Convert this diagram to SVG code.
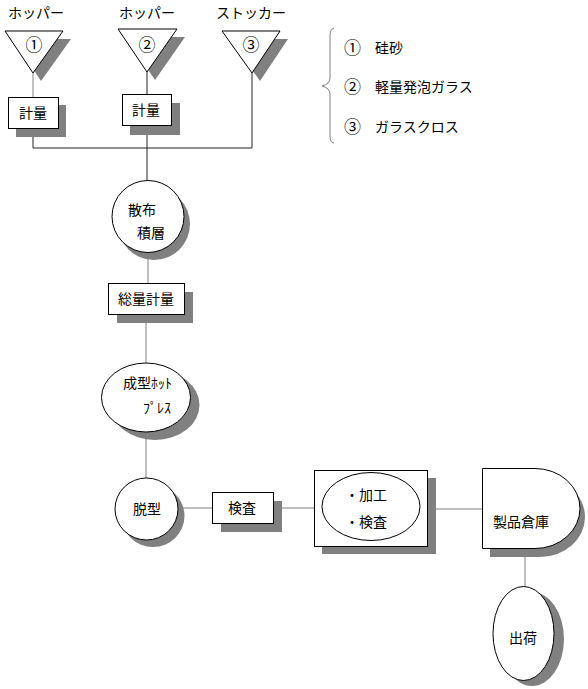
<svg xmlns="http://www.w3.org/2000/svg" width="588" height="689" viewBox="0 0 588 689">
<style>
text{font-family:"Noto Sans CJK JP","Liberation Sans",sans-serif;font-size:14px;fill:#000}
.m{text-anchor:middle}
.c{font-size:17px}
.sh{fill:#808080;stroke:none}
.nd{fill:#fff;stroke:#000;stroke-width:1}
.ln{fill:none;stroke:#222;stroke-width:1}
.lg{fill:none;stroke:#808080;stroke-width:1}
</style>
<rect width="588" height="689" fill="#fff"/>
<g id="labels">
<text class="m" x="36" y="18">ホッパー</text>
<text class="m" x="147" y="18">ホッパー</text>
<text class="m" x="251" y="18">ストッカー</text>
</g>
<g id="connectors">
<path class="lg" d="M33,73V97"/>
<path class="ln" d="M33,128V148H252V73"/>
<path class="ln" d="M147,72V94"/>
<path class="ln" d="M147,125V180"/>
<path class="lg" d="M148,253V283"/>
<path class="lg" d="M146,315V363"/>
<path class="lg" d="M146,432V478"/>
<path class="lg" d="M178,508H212"/>
<path class="lg" d="M273,508H314"/>
<path class="lg" d="M428,509H482"/>
<path class="lg" d="M525,548V586"/>
</g>
<g id="hopper1">
<polygon class="sh" points="13,39 71,39 41,81"/>
<polygon class="nd" points="5,31 63,31 33,73"/>
<text class="m c" x="34" y="51">①</text>
</g>
<g id="hopper2">
<polygon class="sh" points="126,37 185,37 155,80"/>
<polygon class="nd" points="118,29 177,29 147,72"/>
<text class="m c" x="147" y="51">②</text>
</g>
<g id="stocker3">
<polygon class="sh" points="230,39 288,39 260,81"/>
<polygon class="nd" points="222,31 280,31 252,73"/>
<text class="m c" x="251" y="51">③</text>
</g>
<g id="weigh1">
<rect class="sh" x="16" y="105" width="50" height="32"/>
<rect class="nd" x="8.5" y="97.5" width="50" height="31"/>
<text class="m" x="33" y="118">計量</text>
</g>
<g id="weigh2">
<rect class="sh" x="130" y="103" width="50" height="32"/>
<rect class="nd" x="122.5" y="94.5" width="49" height="31"/>
<text class="m" x="146" y="115">計量</text>
</g>
<g id="legend">
<path class="lg" d="M334,28Q330,29 330,36V78Q330,84 322,86Q330,88 330,94V136Q330,143 334,143"/>
<text class="c" x="344" y="54">①</text>
<text x="375" y="53">硅砂</text>
<text class="c" x="344" y="93">②</text>
<text x="375" y="92">軽量発泡ガラス</text>
<text class="c" x="344" y="133">③</text>
<text x="375" y="132">ガラスクロス</text>
</g>
<g id="spread">
<circle class="sh" cx="154" cy="224" r="36"/>
<circle class="nd" cx="148" cy="216.5" r="36"/>
<text x="128" y="215">散布</text>
<text x="137" y="238">積層</text>
</g>
<g id="totalweigh">
<rect class="sh" x="117" y="292" width="76" height="31"/>
<rect class="nd" x="108.5" y="283.5" width="76" height="31"/>
<text class="m" x="146" y="304">総量計量</text>
</g>
<g id="hotpress">
<ellipse class="sh" cx="155" cy="405" rx="44.5" ry="35"/>
<ellipse class="nd" cx="146" cy="397.5" rx="44.5" ry="34.5"/>
<text x="123" y="388">成型ﾎｯﾄ</text>
<text x="143" y="413">ﾌﾟﾚｽ</text>
</g>
<g id="demold">
<ellipse class="sh" cx="153" cy="516" rx="31.5" ry="31"/>
<ellipse class="nd" cx="146.5" cy="509" rx="31.5" ry="31"/>
<text class="m" x="147" y="514">脱型</text>
</g>
<g id="inspect">
<rect class="sh" x="221" y="501" width="61" height="31"/>
<rect class="nd" x="212.5" y="492.5" width="61" height="31"/>
<text class="m" x="242" y="513">検査</text>
</g>
<g id="process">
<rect class="sh" x="322" y="478" width="114" height="76"/>
<rect class="nd" x="314.5" y="470.5" width="113" height="76"/>
<ellipse class="nd" cx="371" cy="506.5" rx="49" ry="34"/>
<text x="345" y="500">・加工</text>
<text x="345" y="527">・検査</text>
</g>
<g id="warehouse">
<path class="sh" d="M490,477H540A45,40 0 0 1 540,557H490Z"/>
<path class="nd" d="M482.5,468.5H535A45,40 0 0 1 535,548.5H482.5Z"/>
<text class="m" x="521" y="527">製品倉庫</text>
</g>
<g id="ship">
<ellipse class="sh" cx="532" cy="639" rx="32" ry="47"/>
<ellipse class="nd" cx="523.5" cy="633.5" rx="30.5" ry="47"/>
<text class="m" x="523" y="643">出荷</text>
</g>
</svg>
